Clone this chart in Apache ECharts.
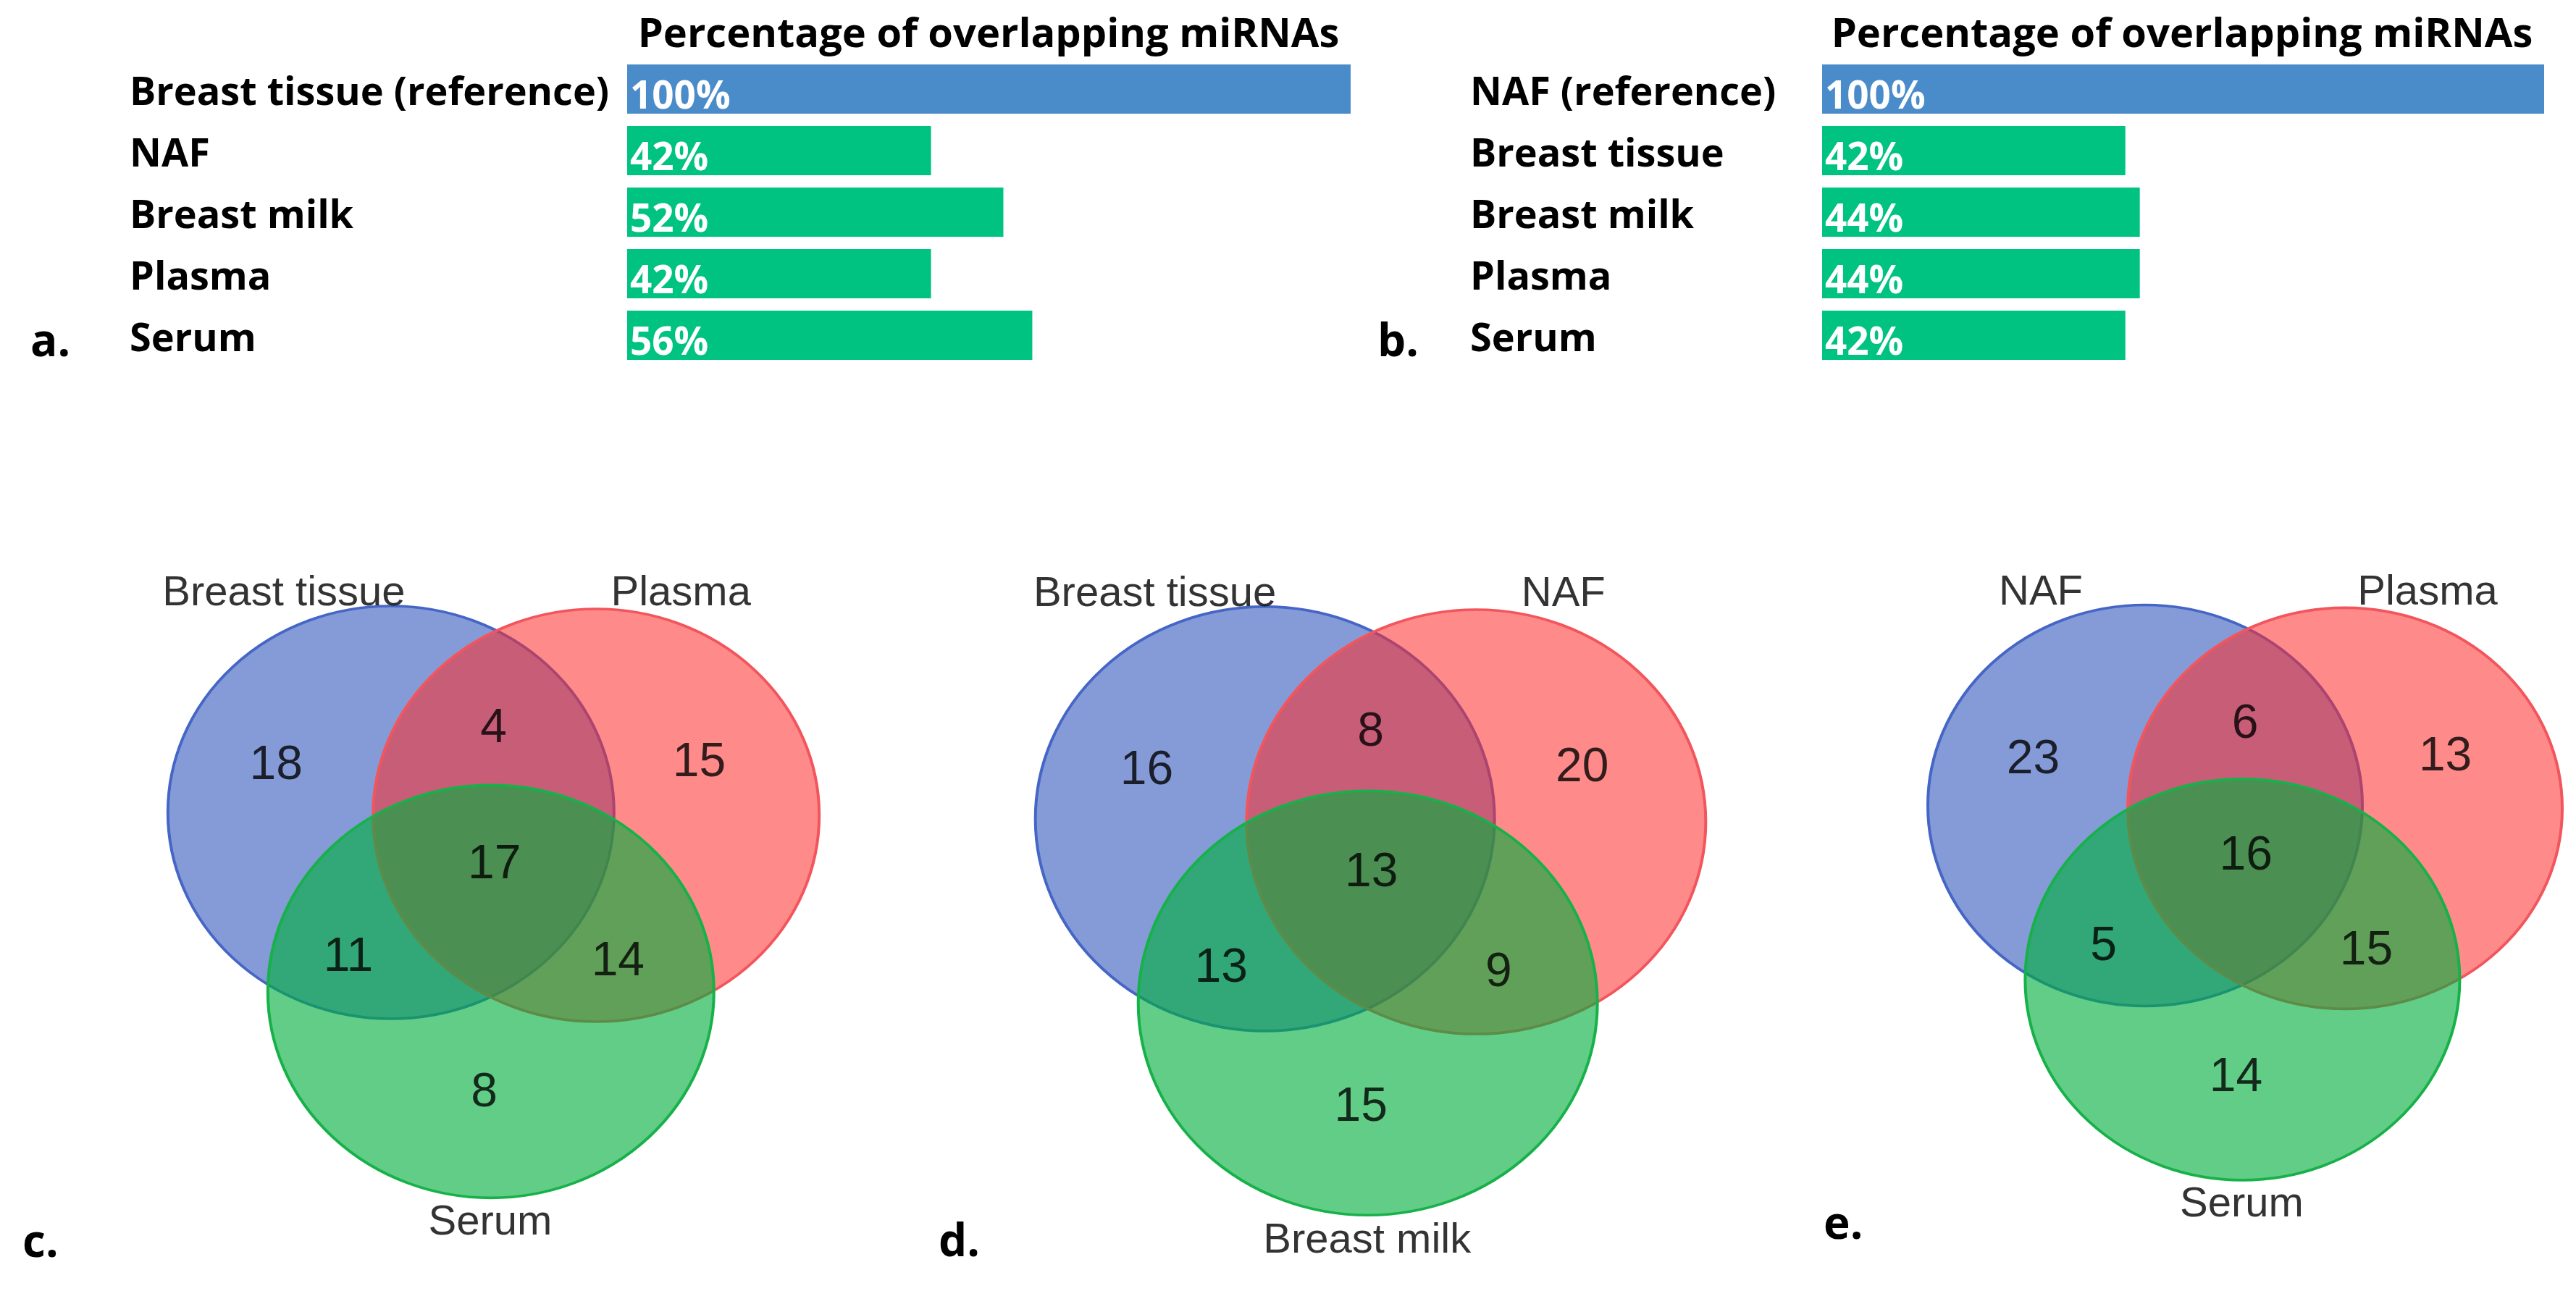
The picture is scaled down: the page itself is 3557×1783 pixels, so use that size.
<!DOCTYPE html>
<html>
<head>
<meta charset="utf-8">
<script src="https://cdn.jsdelivr.net/npm/echarts@6.0.0/dist/echarts.min.js"></script>
<style>
  html, body { margin: 0; padding: 0; background: #fff; }
  #chart { width: 3557px; height: 1783px; }
</style>
</head>
<body>
<div id="chart"></div>
<script>
// ---------------- DATA ----------------
const barTitle = 'Percentage of overlapping miRNAs';
const barCategoriesA = ['Breast tissue (reference)', 'NAF', 'Breast milk', 'Plasma', 'Serum'];
const barValuesA = [100, 42, 52, 42, 56];
const barCategoriesB = ['NAF (reference)', 'Breast tissue', 'Breast milk', 'Plasma', 'Serum'];
const barValuesB = [100, 42, 44, 44, 42];

// Venn counts order: [only A, only B, only C, A∩B, A∩C, B∩C, A∩B∩C]
const vennSetsC = ['Breast tissue', 'Plasma', 'Serum'];
const vennCountsC = [18, 15, 8, 4, 11, 14, 17];
const vennSetsD = ['Breast tissue', 'NAF', 'Breast milk'];
const vennCountsD = [16, 20, 15, 8, 13, 9, 13];
const vennSetsE = ['NAF', 'Plasma', 'Serum'];
const vennCountsE = [23, 13, 14, 6, 5, 15, 16];

const panelLetters = ['a.', 'b.', 'c.', 'd.', 'e.'];

// ---------------- LAYOUT (unit space of each Venn grid) ----------------
const VENN_CIRCLES = [[-0.46, 0], [0.46, -0.014], [-0.012, -0.868]];
const VENN_REGION_POS = [[-0.975, 0.227], [0.922, 0.24], [-0.042, -1.36], [0, 0.405], [-0.651, -0.705], [0.558, -0.727], [0.004, -0.254]];
const VENN_SET_POS = [[-0.94, 1.058], [0.84, 1.058], [-0.015, -1.99]];
const VENN_FILL = ['rgba(52,88,188,0.6)', 'rgba(255,42,42,0.55)', 'rgba(0,175,60,0.62)'];
const VENN_STROKE = ['#4566c6', '#f2555c', '#17b14a'];

const BAR_BLUE = '#4a8bc9';
const BAR_GREEN = '#00c381';
const boldFont = '"Open Sans", "Noto Sans", sans-serif';
const vennFont = '"Liberation Sans", Arial, sans-serif';

const chart = echarts.init(document.getElementById('chart'), null, { renderer: 'canvas' });

const vennGrids = [
  { left: 219.5, top: 751.5, width: 924, height: 997.5 },
  { left: 1417, top: 750, width: 951, height: 1025.5 },
  { left: 2650, top: 752.4, width: 900, height: 969.5 }
];
const vennData = [
  { sets: vennSetsC, counts: vennCountsC },
  { sets: vennSetsD, counts: vennCountsD },
  { sets: vennSetsE, counts: vennCountsE }
];

const grid = [
  { left: 866, top: 80.5, width: 999, height: 425 },
  { left: 2516, top: 80.5, width: 997, height: 425 }
].concat(vennGrids);

const xAxis = [
  { gridIndex: 0, type: 'value', min: 0, max: 100, show: false },
  { gridIndex: 1, type: 'value', min: 0, max: 100, show: false }
];
const yAxis = [];
[[barCategoriesA, 866 - 179], [barCategoriesB, 2516 - 2030]].forEach(function (d, i) {
  yAxis.push({
    gridIndex: i, type: 'category', inverse: true, data: d[0],
    axisLine: { show: false }, axisTick: { show: false }, splitLine: { show: false },
    axisLabel: {
      align: 'left', margin: d[1], color: '#000',
      formatter: function (v) { return '{l|' + v + '}'; },
      rich: { l: { color: '#000', fontFamily: boldFont, fontWeight: 'bold', fontSize: 54, padding: [13, 0, 0, 0] } }
    }
  });
});
vennGrids.forEach(function (g, i) {
  xAxis.push({ gridIndex: i + 2, type: 'value', min: -1.5, max: 1.5, show: false });
  yAxis.push({ gridIndex: i + 2, type: 'value', min: -2.2, max: 1.3, show: false });
});

const series = [];
[[barValuesA, 0], [barValuesB, 1]].forEach(function (d) {
  series.push({
    type: 'bar', xAxisIndex: d[1], yAxisIndex: d[1], silent: true,
    barCategoryGap: '20%',
    data: d[0].map(function (v, i) { return { value: v, itemStyle: { color: i === 0 ? BAR_BLUE : BAR_GREEN } }; }),
    label: { show: true, position: 'insideLeft', distance: 4, offset: [0, 12], formatter: '{c}%', color: '#fff',
      fontFamily: boldFont, fontWeight: 'bold', fontSize: 53 }
  });
});

vennData.forEach(function (vd, k) {
  const ai = k + 2;
  series.push({
    type: 'custom', xAxisIndex: ai, yAxisIndex: ai, silent: true, coordinateSystem: 'cartesian2d',
    data: VENN_CIRCLES,
    renderItem: function (params, api) {
      const c = api.coord([api.value(0), api.value(1)]);
      const s = api.size([1, 1]);
      const idx = params.dataIndex;
      return {
        type: 'circle', x: c[0], y: c[1], scaleY: s[1] / s[0],
        shape: { cx: 0, cy: 0, r: s[0] },
        style: { fill: VENN_FILL[idx], stroke: VENN_STROKE[idx], lineWidth: 4 }
      };
    }
  });
  series.push({
    type: 'scatter', xAxisIndex: ai, yAxisIndex: ai, silent: true, symbolSize: 1,
    itemStyle: { color: 'rgba(0,0,0,0)' },
    data: vd.counts.map(function (v, i) { return [VENN_REGION_POS[i][0], VENN_REGION_POS[i][1], v]; }),
    label: { show: true, position: 'inside', formatter: function (p) { return String(p.value[2]); },
      color: '#000', fontFamily: vennFont, fontSize: 66 }
  });
  series.push({
    type: 'scatter', xAxisIndex: ai, yAxisIndex: ai, silent: true, symbolSize: 1,
    itemStyle: { color: 'rgba(0,0,0,0)' },
    data: vd.sets.map(function (name, i) { return [VENN_SET_POS[i][0], VENN_SET_POS[i][1], name]; }),
    label: { show: true, position: 'inside', formatter: function (p) { return p.value[2]; },
      color: '#000', fontFamily: vennFont, fontSize: 58 }
  });
});

function txt(text, x, y, size, align) {
  return {
    type: 'text', x: x, y: y, silent: true,
    style: { text: text, fontFamily: boldFont, fontWeight: 'bold', fontSize: size, fill: '#000',
      align: align, verticalAlign: 'middle', textAlign: align, textVerticalAlign: 'middle' }
  };
}
const graphic = [
  txt(barTitle, 1365, 49, 56, 'center'),
  txt(barTitle, 3013, 49, 56, 'center'),
  txt(panelLetters[0], 42, 474, 62, 'left'),
  txt(panelLetters[1], 1902, 474, 62, 'left'),
  txt(panelLetters[2], 31, 1718, 62, 'left'),
  txt(panelLetters[3], 1296, 1717, 62, 'left'),
  txt(panelLetters[4], 2518, 1693, 62, 'left')
];

chart.setOption({
  animation: false,
  backgroundColor: '#fff',
  grid: grid, xAxis: xAxis, yAxis: yAxis, series: series, graphic: graphic
});
</script>
</body>
</html>
